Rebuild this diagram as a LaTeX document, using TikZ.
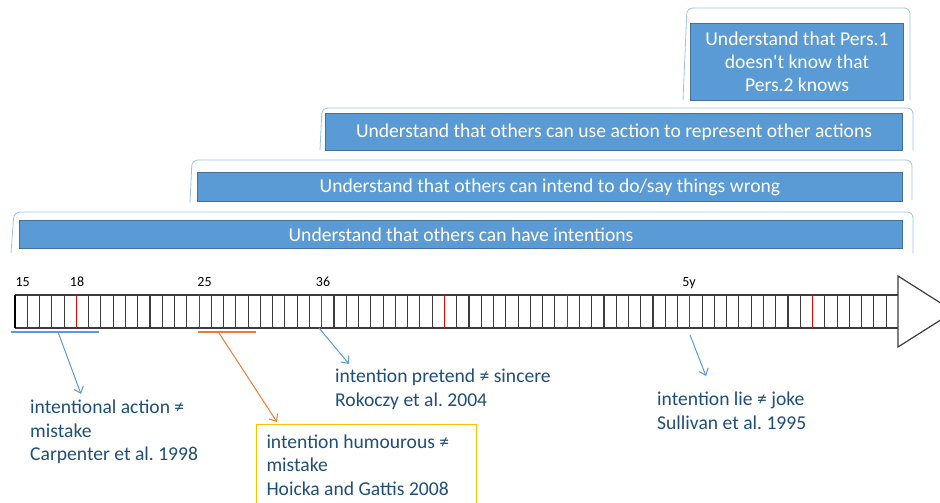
\documentclass[tikz,border=0pt]{standalone}
\usepackage{fontspec}
\setmainfont{Carlito}[Ligatures=TeXOff]
\usepackage{xcolor}
\usepackage{tikz}
\usetikzlibrary{arrows.meta}
\frenchspacing

\definecolor{barblue}{RGB}{91,155,213}
\definecolor{barline}{RGB}{65,113,156}
\definecolor{bracelight}{RGB}{157,195,230}
\definecolor{textblue}{RGB}{31,78,121}
\definecolor{pointblue}{RGB}{91,155,213}
\definecolor{pointorange}{RGB}{237,125,49}
\definecolor{boxgold}{RGB}{255,192,0}
\definecolor{tickgray}{RGB}{60,60,60}

\begin{document}
\begin{tikzpicture}[
    x=1pt, y=-1pt,
    bar/.style={draw=barline, fill=barblue, text=white, line width=1pt, inner sep=0pt, align=center, anchor=north west, font=\fontsize{19.6}{23}\selectfont},
    brace/.style={draw=bracelight, line width=0.8pt, rounded corners=6pt},
    ann/.style={text=textblue, inner sep=0pt, align=flush left, anchor=north west, font=\fontsize{19.6}{23.5}\selectfont},
    agelabel/.style={anchor=base, font=\fontsize{14}{16}\selectfont},
    tick/.style={draw=tickgray, line width=1.1pt},
    pointer/.style={-{Straight Barb[length=6pt, width=10pt]}, line width=1pt}
]
\useasboundingbox (0,0) rectangle (940,503);

% Brackets over the bars
\draw[brace] (11,253) -- (14,212) -- (913,212) -- (913,253);
\draw[brace] (190,203) -- (192,160) -- (912,160) -- (912,200);
\draw[brace] (320,150) -- (322,108) -- (913,108) -- (913,150);
\draw[brace] (683,100) -- (687,8) -- (910,8) -- (910,100);

% Bars
\node[bar, minimum width=883pt, minimum height=28pt] (intentions) at (19,220) {Understand that others can have intentions};
\node[bar, minimum width=705pt, minimum height=29pt] (wrong) at (197,172) {Understand that others can intend to do/say things wrong};
\node[bar, minimum width=577pt, minimum height=37pt] (represent) at (325,113) {Understand that others can use action to represent other actions};
\node[bar, minimum width=213pt, minimum height=77pt] (knows) at (690,23) {Understand that Pers.1\\doesn't know that\\Pers.2 knows};

% Timeline
\draw[tick] (15,295) -- (898,295);
\draw[tick] (15,328) -- (898,328);
\foreach \i in {1,...,71} {
    \draw[tick] ({15+\i*12.27},295) -- ({15+\i*12.27},328);
}
\foreach \i in {5,15,...,65} {
    \draw[red, line width=1.1pt] ({15+\i*12.27},295) -- ({15+\i*12.27},328);
}
\draw[black, line width=2pt] (15,295) -- (15,328);
\draw[tick, fill=white, line width=1.2pt] (898,276) -- (954,311.5) -- (898,347) -- cycle;

% Ages
\node[agelabel, anchor=base west] (m15) at (12,286) {15};
\node[agelabel] (m18) at (77,286) {18};
\node[agelabel] (m25) at (204.5,286) {25};
\node[agelabel] (m36) at (323,286) {36};
\node[agelabel] (y5) at (689,286) {5y};

% Spans under the timeline
\coordinate (spanAs) at (11,332);
\coordinate (spanAe) at (99,332);
\coordinate (spanBs) at (198,332);
\coordinate (spanBe) at (256,332);
\draw[pointblue, line width=1.5pt] (spanAs) -- (spanAe);
\draw[pointorange, line width=1.5pt] (spanBs) -- (spanBe);

% Findings
\node[ann] (carpenter) at (30,400) {intentional action ≠\\mistake\\Carpenter et al. 1998};
\node[ann, draw=boxgold, line width=1pt, inner xsep=10pt, inner ysep=10pt, text width=200pt] (hoicka) at (256,424) {intention humourous ≠\\mistake\\Hoicka and Gattis 2008};
\node[ann] (rokoczy) at (335,369) {intention pretend ≠ sincere\\Rokoczy et al. 2004};
\node[ann] (sullivan) at (657,392) {intention lie ≠ joke\\Sullivan et al. 1995};

% Pointers
\coordinate (fromA) at (58,332);
\coordinate (toA) at (81,394);
\coordinate (fromB) at (219,333);
\coordinate (toB) at (277,422);
\coordinate (fromC) at (319,328);
\coordinate (toC) at (349,364);
\coordinate (fromD) at (690,335);
\coordinate (toD) at (706,376);
\draw[pointer, pointblue] (fromA) -- (toA);
\draw[pointer, pointorange] (fromB) -- (toB);
\draw[pointer, pointblue] (fromC) -- (toC);
\draw[pointer, pointblue] (fromD) -- (toD);

\end{tikzpicture}
\end{document}
